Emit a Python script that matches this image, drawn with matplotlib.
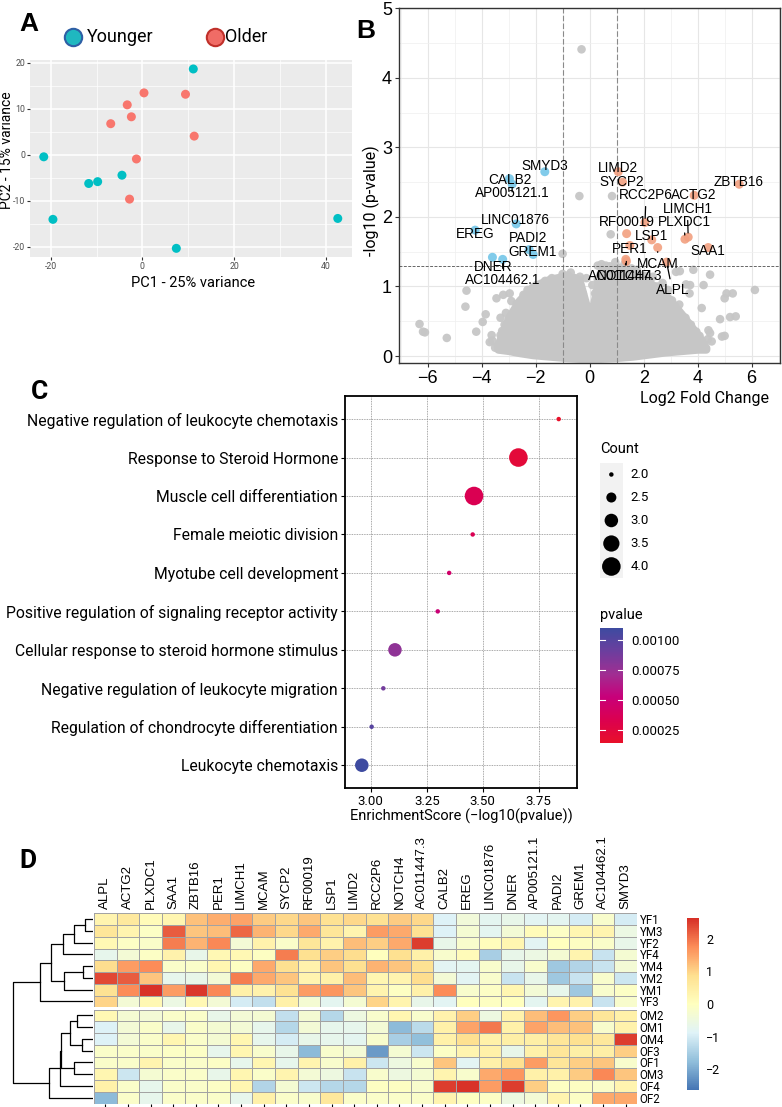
import numpy as np
import matplotlib
matplotlib.use("Agg")
import matplotlib.pyplot as plt
from matplotlib.colors import LinearSegmentedColormap, Normalize
from matplotlib.cm import ScalarMappable

plt.rcParams['font.family'] = ['Roboto', 'DejaVu Sans']
plt.rcParams['axes.unicode_minus'] = False

# ---------------- data ----------------
# A: PCA
young_pc1 = [11.1, -21.5, -11.7, -9.75, -4.45, -19.5, 7.4, 42.6]
young_pc2 = [18.7, -0.4, -6.2, -5.8, -4.4, -14.0, -20.3, -13.8]
old_pc1 = [0.35, 9.4, -3.3, -2.4, -6.9, 11.3, -1.3, -2.8]
old_pc2 = [13.5, 13.2, 10.9, 8.3, 6.8, 4.1, -0.87, -9.6]

# B: volcano
down_genes = ['SMYD3', 'CALB2', 'AP005121.1', 'LINC01876', 'EREG', 'PADI2', 'GREM1', 'DNER', 'AC104462.1']
down_lfc = [-1.66, -2.97, -2.87, -2.72, -4.24, -2.24, -2.09, -3.6, -3.22]
down_logp = [2.65, 2.55, 2.47, 1.90, 1.81, 1.53, 1.46, 1.42, 1.39]
up_genes = ['LIMD2', 'SYCP2', 'ZBTB16', 'ACTG2', 'RCC2P6', 'RF00019', 'LIMCH1', 'PLXDC1', 'LSP1',
            'PER1', 'SAA1', 'MCAM', 'NOTCH4', 'AC011447.3', 'ALPL']
up_lfc = [1.06, 1.22, 5.54, 3.87, 2.05, 1.37, 3.65, 3.53, 2.30, 1.49, 4.39, 2.52, 1.34, 1.36, 2.85]
up_logp = [2.65, 2.50, 2.47, 2.31, 1.92, 1.76, 1.71, 1.68, 1.67, 1.59, 1.56, 1.56, 1.39, 1.36, 1.35]

# non-significant genes: scattered points around the dense cloud
ns_lfc = [-0.3, -0.38, 0.83, 0.78, -1.0, 0.44, -0.36, 0.55,
          -6.3, -6.17, -6.1, -5.29, -4.56, -4.6, -3.96, -3.63, -3.24, -3.45, -3.2, -2.96, -2.9,
          -2.66, -3.1, -3.3, -2.45, -2.3, -1.97, -1.72, -1.35, -1.15, -0.8, -0.55, -0.12, -3.7,
          -3.4, -2.8, -4.2, -3.85, -2.55, -2.1, -1.55,
          0.75, 1.13, 1.5, 2.34, 3.2, 3.34, 3.84, 4.46, 3.57, 3.72, 4.22, 3.7, 5.3, 6.12, 5.07,
          5.0, 5.2, 4.83, 5.41, 4.4, 4.07, 4.37, 4.46, 4.9, 5.0, 4.52, 4.15, 3.32, 3.15, 3.47,
          3.7, 2.84, 2.6, 2.9, 1.9, 2.7, 1.75, 0.3, 0.1, 2.2, 3.0, 3.95,
          -3.3, -3.15, -2.85, -2.7, -2.4, -2.2, -1.9, -1.65, -1.4, -1.2, -1.0, -0.7, -0.45,
          -0.25, -0.2, 0.05, 0.2, 0.3, 0.6, 0.95, 1.3, 1.55, 1.8, 2.05, 2.5, 2.65, 3.05, 3.25,
          3.55, 3.75, 3.95, 4.15, 4.25, -3.5, -3.6, -2.95, -2.5, 3.8, 3.3]
ns_logp = [4.41, 2.30, 2.30, 1.75, 1.47, 1.32, 1.14, 1.25,
           0.46, 0.35, 0.34, 0.26, 0.94, 0.71, 0.49, 0.30, 0.36, 0.83, 0.88, 0.90, 0.79,
           0.64, 0.62, 0.55, 0.88, 0.95, 1.02, 0.92, 1.05, 1.10, 1.16, 1.12, 1.12, 0.20,
           0.15, 0.45, 0.35, 0.60, 0.30, 0.68, 0.98,
           1.29, 1.27, 1.20, 1.14, 1.21, 1.22, 1.24, 1.17, 1.03, 1.02, 1.02, 0.90, 0.90, 0.95, 0.90,
           0.83, 0.56, 0.53, 0.57, 0.37, 0.29, 0.24, 0.33, 0.28, 0.29, 0.21, 0.69, 0.74, 0.72, 0.42,
           0.38, 0.57, 0.80, 0.95, 1.10, 1.05, 1.24, 1.30, 1.02, 0.35, 0.20, 0.15,
           0.30, 0.45, 0.60, 0.75, 0.78, 0.90, 0.95, 1.08, 1.12, 1.02, 1.18, 1.20, 1.05,
           0.90, 0.65, 0.50, 0.90, 1.10, 1.30, 1.35, 1.33, 1.26, 1.18, 1.15, 1.00, 0.92, 0.80, 0.65,
           0.55, 0.45, 0.35, 0.20, 0.12, 0.12, 0.22, 0.25, 0.15, 0.12, 0.15]
# outline of the dense part of the cloud
cloud_lfc = [-3.4, -3.0, -2.6, -2.1, -1.5, -0.9, -0.4, -0.15, 0.0, 0.15, 0.4, 1.0, 1.6, 2.2, 2.8, 3.4, 4.0, 4.3]
cloud_top = [0.15, 0.55, 0.8, 1.0, 1.1, 1.15, 1.1, 0.75, 0.4, 0.75, 1.2, 1.27, 1.2, 1.06, 0.88, 0.6, 0.3, 0.12]
cloud_bot = [0.1, 0.08, 0.05, 0.02, 0.0, -0.02, -0.03, -0.03, -0.03, -0.03, -0.03, -0.02, 0.0, 0.03, 0.06, 0.08, 0.1, 0.1]

# label positions (x, y) and whether a segment is drawn
label_pos = {
    'SMYD3': (-1.66, 2.73, False), 'CALB2': (-2.95, 2.53, False), 'AP005121.1': (-2.87, 2.34, True),
    'LINC01876': (-2.75, 1.95, False), 'EREG': (-4.25, 1.76, False), 'PADI2': (-2.3, 1.69, False),
    'GREM1': (-2.13, 1.49, False), 'DNER': (-3.57, 1.28, False), 'AC104462.1': (-3.22, 1.10, True),
    'LIMD2': (1.04, 2.70, False), 'SYCP2': (1.2, 2.50, False), 'ZBTB16': (5.5, 2.50, False),
    'RCC2P6': (2.09, 2.31, True), 'ACTG2': (3.84, 2.31, False), 'LIMCH1': (3.62, 2.11, True),
    'RF00019': (1.37, 1.93, False), 'PLXDC1': (3.5, 1.93, True), 'LSP1': (2.30, 1.72, False),
    'PER1': (1.49, 1.54, False), 'SAA1': (4.39, 1.51, False), 'MCAM': (2.52, 1.33, True),
    'NOTCH4': (1.30, 1.15, True), 'AC011447.3': (1.33, 1.15, True), 'ALPL': (3.06, 0.95, True),
}

# C: GO enrichment
go_terms = ['Negative regulation of leukocyte chemotaxis', 'Response to Steroid Hormone',
            'Muscle cell differentiation', 'Female meiotic division', 'Myotube cell development',
            'Positive regulation of signaling receptor activity',
            'Cellular response to steroid hormone stimulus',
            'Negative regulation of leukocyte migration',
            'Regulation of chondrocyte differentiation', 'Leukocyte chemotaxis']
go_score = [3.839, 3.659, 3.461, 3.455, 3.35, 3.299, 3.108, 3.056, 3.004, 2.96]
go_count = [2, 4, 4, 2, 2, 2, 3, 2, 2, 3]

# D: heatmap (row z-scores)
hm_genes = ['ALPL', 'ACTG2', 'PLXDC1', 'SAA1', 'ZBTB16', 'PER1', 'LIMCH1', 'MCAM', 'SYCP2',
            'RF00019', 'LSP1', 'LIMD2', 'RCC2P6', 'NOTCH4', 'AC011447.3', 'CALB2', 'EREG',
            'LINC01876', 'DNER', 'AP005121.1', 'PADI2', 'GREM1', 'AC104462.1', 'SMYD3']
hm_samples = ['YF1', 'YM3', 'YF2', 'YF4', 'YM4', 'YM2', 'YM1', 'YF3',
              'OM2', 'OM1', 'OM4', 'OF3', 'OF1', 'OM3', 'OF4', 'OF2']
hm_values = [
    [0.3, 0.6, 0.1, 0.25, 1.2, 1.4, 1.5, 1.1, 0.95, 1.15, 0.8, 0.95, 0.8, 1.1, 0.95, -0.9, -0.4, -0.75, -0.65, -0.8, -0.75, -1.0, -0.2, -1.0],
    [0.7, 0.3, -0.1, 2.2, 1.15, 1.25, 2.1, 1.35, 0.95, 1.45, 0.7, 0.3, 1.6, 1.45, 0.8, -0.9, -0.3, -0.75, -0.35, 0.1, -0.1, 0.25, 0.3, -0.55],
    [0.2, -0.1, -0.15, 1.9, 1.35, 1.8, -0.35, 0.35, -0.15, 0.7, 0.35, 1.25, 1.05, 1.45, 2.5, -0.65, -0.2, 0.05, 0.25, -0.8, 0.0, -0.05, -0.15, -0.65],
    [-0.7, -0.35, -0.1, 0.35, -0.65, 0.2, 0.2, -0.05, 1.9, 0.85, 1.05, 0.9, 0.0, 0.85, 0.4, -0.2, 0.1, -1.5, -0.65, -0.55, -0.3, 0.3, -1.15, -0.3],
    [0.9, 1.6, 1.75, -0.15, -0.15, 0.25, -0.05, 1.45, 0.85, 0.35, 1.15, 0.85, 1.35, 1.15, 0.8, -0.8, -0.75, -0.2, -0.65, -0.2, -1.6, -1.4, -1.15, -0.35],
    [2.4, 2.2, 1.15, -0.7, -0.65, -0.35, 1.9, 1.45, 1.15, 0.3, 0.4, 1.25, 0.25, 0.3, 0.9, -0.35, -0.8, -0.2, -1.15, -0.65, -1.6, -1.15, -0.2, -1.1],
    [0.8, 1.75, 2.6, 1.6, 2.55, 1.8, 0.4, 0.35, 0.8, 1.6, 1.65, 1.15, 0.3, -0.05, 0.4, 1.75, -0.2, -0.1, 0.25, -0.35, -0.7, -1.6, -0.2, -0.1],
    [1.0, -0.35, 0.2, -0.55, 0.2, -0.35, -1.0, -1.2, 0.4, -0.3, -0.75, -0.3, 1.0, 0.3, -0.65, -0.8, 0.0, -0.05, 0.0, -0.75, 0.3, 0.35, -1.15, -0.2],
    [0.2, -0.3, -0.35, -0.15, -0.15, -0.65, -0.35, -0.3, -1.2, -0.3, -1.35, -0.5, -0.2, 0.25, -0.2, 0.35, 1.05, -0.5, 0.35, 1.25, 1.65, 1.05, 0.7, 0.4],
    [-0.9, -0.35, -0.15, -0.65, -0.15, -0.3, -0.35, -0.7, -1.35, -0.35, -0.7, -0.7, -0.35, -1.8, -1.3, 0.4, 1.5, 1.95, 0.4, 1.5, 1.25, 1.2, -0.2, 0.35],
    [-0.9, -0.35, -0.15, 0.25, -0.15, -0.3, 0.25, -0.7, -1.0, -0.65, -0.7, -0.75, -0.2, -1.5, -1.75, 0.4, 0.85, 0.4, 0.45, 0.45, 0.7, 0.85, 0.65, 2.5],
    [-0.15, -0.15, -0.15, -0.1, -0.1, -0.7, 0.25, -0.2, -0.65, -1.8, -0.2, -0.35, -2.2, -0.3, -1.1, -0.1, 0.3, 0.4, -0.65, 0.4, 0.7, 0.45, 0.45, 1.05],
    [-0.15, -0.15, 0.3, -0.15, -0.15, -0.1, -0.7, 0.25, -0.7, 0.3, -0.2, 0.4, -1.1, -0.5, -0.2, 1.15, -0.8, 0.4, 0.85, 1.6, 0.7, 1.05, 1.15, -0.2],
    [0.25, -1.1, -0.3, -0.15, -0.15, -0.65, 0.25, -0.15, 0.3, -0.35, -0.5, -1.15, -0.2, -0.5, -0.3, 0.3, -0.2, 1.45, 1.65, 0.4, 0.4, 1.1, 1.8, 1.15],
    [0.4, -0.15, -0.7, -0.15, -0.15, -0.1, 0.25, -1.4, -0.3, -1.1, -1.35, -1.35, -0.05, -0.05, -0.2, 2.5, 2.6, 1.6, 2.5, 1.05, -0.05, -0.05, -0.15, 0.3],
    [-1.8, -0.15, -0.7, -0.15, -0.15, -0.15, -0.7, 0.4, -0.15, -0.2, 0.65, -0.15, -0.15, -0.15, -0.15, 0.3, -0.05, -0.1, -0.5, -0.35, 0.3, -0.1, 1.45, 1.45],
]
# row clustering: (left, right, height); new clusters numbered from 16
row_merges = [(0, 1, 25), (16, 2, 58), (17, 3, 90), (4, 5, 30), (19, 6, 88), (18, 20, 125),
              (21, 7, 158), (8, 9, 48), (10, 11, 32), (23, 24, 70), (12, 13, 58), (25, 26, 95),
              (27, 14, 100), (28, 15, 132), (22, 29, 240)]

# ---------------- layout helpers ----------------
W, H = 782, 1107
fig = plt.figure(figsize=(W / 100, H / 100), dpi=100)


def ax_px(l, t, r, b, **kw):
    return fig.add_axes([l / W, 1 - b / H, (r - l) / W, (b - t) / H], **kw)


def ftxt(x, y, s, **kw):
    fig.text(x / W, 1 - y / H, s, **kw)


for lab, x, y, fam in [('A', 29, 24, 'Liberation Sans'), ('B', 366, 31, 'Liberation Sans'),
                       ('C', 40, 392, 'Roboto'), ('D', 28, 861, 'Roboto')]:
    ftxt(x, y, lab, fontsize=19, fontweight='bold', ha='center', va='center', family=fam)

# ---------------- A ----------------
axA = ax_px(30, 60, 352, 257.3)
axA.set_facecolor('#EBEBEB')
axA.scatter(young_pc1, young_pc2, s=42, color='#00BFC4', edgecolors='none', zorder=3)
axA.scatter(old_pc1, old_pc2, s=42, color='#F8766D', edgecolors='none', zorder=3)
axA.set_xlim(-24.5, 45.7)
axA.set_ylim(-22.25, 20.65)
axA.set_xticks([-20, 0, 20, 40])
axA.set_xticks([-10, 10, 30], minor=True)
axA.set_yticks([-20, -10, 0, 10, 20])
axA.set_yticks([-15, -5, 5, 15], minor=True)
axA.grid(which='major', color='white', lw=1.1)
axA.grid(which='minor', color='white', lw=0.5)
axA.set_axisbelow(True)
for sp in axA.spines.values():
    sp.set_visible(False)
axA.tick_params(which='major', length=2.5, color='#333333', labelsize=6.3, labelcolor='#4D4D4D', pad=1)
axA.tick_params(which='minor', length=0)
ftxt(193, 283, 'PC1 - 25% variance', ha='center', va='center', fontsize=10.5)
ftxt(7, 150, 'PC2 - 15% variance', ha='center', va='center', rotation=90, fontsize=10)

leg = ax_px(0, 0, W, H)
leg.set_xlim(0, W)
leg.set_ylim(H, 0)
leg.axis('off')
leg.plot([72.7], [36.7], 'o', ms=12.5, mfc='#1FB8C0', mec='#2E5FA5', mew=1.5)
leg.plot([215], [36.7], 'o', ms=12.5, mfc='#F06C66', mec='#C0302A', mew=1.5)
ftxt(87, 37, 'Younger', fontsize=13, va='center')
ftxt(225, 37, 'Older', fontsize=13, va='center')

# ---------------- B ----------------
axB = ax_px(399, 8.3, 780, 362.7)
axB.set_xlim(-7.06, 7.05)
axB.set_ylim(-0.096, 5.0)
axB.set_xticks(range(-6, 7, 2))
axB.set_xticklabels([str(v).replace('-', '\u2212') for v in range(-6, 7, 2)])
axB.set_xticks(range(-7, 8), minor=True)
axB.set_yticks(range(0, 6))
axB.set_yticks(np.arange(0.5, 5, 1.0), minor=True)
axB.grid(which='major', color='#E6E6E6', lw=0.8)
axB.grid(which='minor', color='#EFEFEF', lw=0.5)
axB.set_axisbelow(True)
for sp in axB.spines.values():
    sp.set_color('#333333')
    sp.set_linewidth(1)
axB.tick_params(which='major', labelsize=13, length=3, color='#333333', pad=2)
axB.tick_params(which='minor', length=0)
for t in axB.get_xticklabels() + axB.get_yticklabels():
    t.set_family('Liberation Sans')

grey = '#C6C6C6'
axB.fill_between(cloud_lfc, cloud_bot, cloud_top, color=grey, lw=6, edgecolor=grey,
                 joinstyle='round', zorder=1)
axB.scatter(ns_lfc, ns_logp, s=38, color=grey, edgecolors='none', alpha=0.95, zorder=1)
axB.axvline(-1, color='#8A8A8A', lw=0.8, ls=(0, (5, 2)), zorder=2)
axB.axvline(1, color='#8A8A8A', lw=0.8, ls=(0, (5, 2)), zorder=2)
axB.axhline(-np.log10(0.05), color='#666666', lw=0.7, ls=(0, (3, 1.5)), zorder=2)
axB.scatter(down_lfc, down_logp, s=42, color='#73C6E8', edgecolors='none', alpha=0.9, zorder=3)
axB.scatter(up_lfc, up_logp, s=42, color='#F2A080', edgecolors='none', alpha=0.9, zorder=3)

for g, x, y in zip(down_genes + up_genes, down_lfc + up_lfc, down_logp + up_logp):
    tx, ty, seg = label_pos[g]
    props = dict(arrowstyle='-', color='black', lw=0.9, shrinkA=1, shrinkB=3) if seg else None
    axB.annotate(g, xy=(x, y), xytext=(tx, ty), ha='center', va='center', fontsize=9.8,
                 family='Liberation Sans', arrowprops=props, zorder=4)

ftxt(371.7, 201, '-log10 (p-value)', ha='center', va='center', rotation=90, fontsize=11.5)
ftxt(704, 398, 'Log2 Fold Change', ha='center', va='center', fontsize=11.5)

# ---------------- C ----------------
axC = ax_px(345, 396, 577.3, 788.3)
pvals = [10 ** (-s) for s in go_score]
go_cmap = LinearSegmentedColormap.from_list(
    'go', ['#E8102A', '#DB0050', '#C8007A', '#A02E92', '#6C3E9E', '#3E4BA0'])
go_norm = Normalize(vmin=min(pvals), vmax=max(pvals))


def count_to_area(c):
    r = np.sqrt(5 + (np.asarray(c, float) - 2) * 40.75)
    return 2.07 * r ** 2


ypos = np.arange(1, len(go_terms) + 1)
axC.scatter(go_score, ypos, s=count_to_area(go_count), c=pvals, cmap=go_cmap, norm=go_norm,
            edgecolors='none', zorder=3)
axC.set_xlim(2.885, 3.922)
axC.set_ylim(10.6, 0.4)
axC.set_yticks(ypos)
axC.set_yticklabels(go_terms, fontsize=11.3)
axC.set_xticks([3.0, 3.25, 3.5, 3.75])
axC.set_xticklabels(['3.00', '3.25', '3.50', '3.75'], fontsize=9.5)
axC.grid(True, color='#8C8C8C', lw=0.6, ls=(0, (1, 1)))
axC.set_axisbelow(True)
for sp in axC.spines.values():
    sp.set_linewidth(1.3)
    sp.set_color('black')
axC.tick_params(length=3, width=0.8, pad=2)
ftxt(461, 816.7, 'EnrichmentScore (\u2212log10(pvalue))', ha='center', va='center', fontsize=10.5)

# size legend
ftxt(600, 449, 'Count', fontsize=10.5, va='center')
lgC = ax_px(600, 463, 622.7, 578)
lgC.set_facecolor('#F2F2F2')
lgC.set_xlim(0, 1)
lgC.set_ylim(5, 0)
lgC.set_xticks([])
lgC.set_yticks([])
for sp in lgC.spines.values():
    sp.set_visible(False)
leg_counts = [2.0, 2.5, 3.0, 3.5, 4.0]
lgC.scatter([0.5] * 5, np.arange(5) + 0.5, s=count_to_area(leg_counts), color='black',
            edgecolors='none')
for i, c in enumerate(leg_counts):
    ftxt(630.7, 475 + i * 22.9, f'{c:.1f}', fontsize=9.5, va='center')

# colour legend
ftxt(600, 615, 'pvalue', fontsize=10.5, va='center')
caxC = ax_px(600, 628.3, 622.7, 742.7)
cbC = fig.colorbar(ScalarMappable(norm=go_norm, cmap=go_cmap), cax=caxC)
cbC.outline.set_visible(False)
cticks = [0.00025, 0.0005, 0.00075, 0.001]
cbC.set_ticks(cticks)
cbC.set_ticklabels(['0.00025', '0.00050', '0.00075', '0.00100'])
caxC.tick_params(length=0, labelsize=9.5, pad=6)
for v in cticks:
    caxC.plot([0, 0.2], [v, v], color='white', lw=0.8)
    caxC.plot([0.8, 1], [v, v], color='white', lw=0.8)

# ---------------- D ----------------
hm = np.array(hm_values)
hm_cmap = LinearSegmentedColormap.from_list(
    'rdylbu_r', ['#4575B4', '#91BFDB', '#E0F3F8', '#FFFFBF', '#FEE090', '#FC8D59', '#D73027'])
vmin, vmax = -2.64, 2.63
top_px, row_h, gap_px = 913.3, 11.75, 2.3
left_px, right_px = 94, 637
blocks = [(0, 8, top_px), (8, 16, top_px + 8 * row_h + gap_px)]
for k, (r0, r1, t) in enumerate(blocks):
    ax = ax_px(left_px, t, right_px, t + (r1 - r0) * row_h)
    ax.pcolormesh(hm[r0:r1], cmap=hm_cmap, vmin=vmin, vmax=vmax, edgecolors='#A3A3A3', lw=0.6)
    ax.set_xlim(0, len(hm_genes))
    ax.set_ylim(r1 - r0, 0)
    for sp in ax.spines.values():
        sp.set_visible(False)
    ax.set_yticks(np.arange(r1 - r0) + 0.5)
    ax.set_yticklabels(hm_samples[r0:r1], fontsize=8.3)
    ax.yaxis.tick_right()
    ax.tick_params(axis='y', length=0, pad=2)
    ax.set_xticks(np.arange(len(hm_genes)) + 0.5)
    if k == 0:
        ax.xaxis.tick_top()
        ax.set_xticklabels(hm_genes, rotation=90, fontsize=9.5, family='Liberation Sans')
        ax.tick_params(axis='x', length=0, pad=3)
    else:
        ax.tick_params(axis='x', length=2, width=0.8, labelbottom=False, pad=0)

# dendrogram
axD = ax_px(10, top_px, 93, blocks[1][2] + 8 * row_h)
n = len(hm_samples)
pos = {i: i + 0.5 + (gap_px / row_h if i >= 8 else 0) for i in range(n)}
hgt = {i: 0 for i in range(n)}
for k, (a, b, h) in enumerate(row_merges):
    axD.plot([hgt[a], h, h, hgt[b]], [pos[a], pos[a], pos[b], pos[b]], color='black', lw=0.9)
    pos[n + k] = (pos[a] + pos[b]) / 2
    hgt[n + k] = h
axD.set_xlim(249, 0)
axD.set_ylim(16 + gap_px / row_h, 0)
axD.axis('off')

caxD = ax_px(687.3, 918.3, 699.3, 1090)
cbD = fig.colorbar(ScalarMappable(norm=Normalize(vmin, vmax), cmap=hm_cmap), cax=caxD)
cbD.outline.set_visible(False)
cbD.set_ticks([-2, -1, 0, 1, 2])
cbD.set_ticklabels(['\u22122', '\u22121', '0', '1', '2'])
caxD.tick_params(length=0, labelsize=9, pad=5)

fig.savefig('out.png', dpi=100)
